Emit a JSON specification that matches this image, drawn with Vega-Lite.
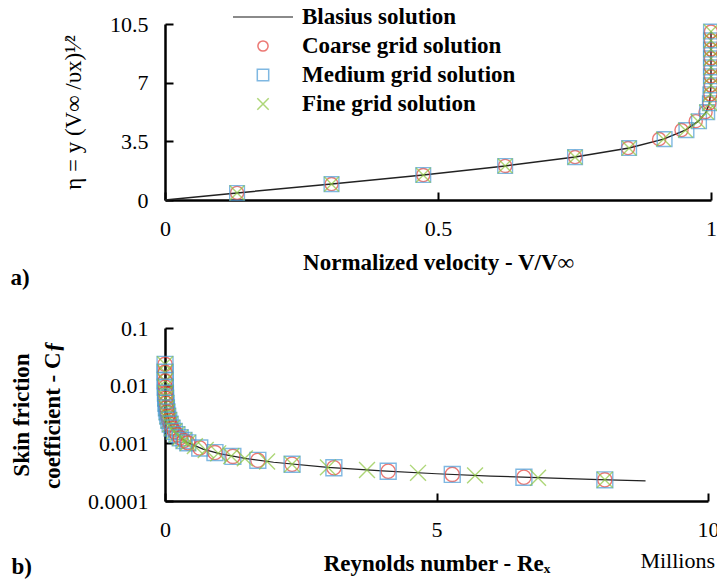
{
  "$schema": "https://vega.github.io/schema/vega-lite/v6.json",
  "background": "white",
  "padding": {"left": 10, "top": 5, "right": 0, "bottom": 0},
  "spacing": 27,
  "datasets": {
    "blasiusTop": [
      {"v": 0, "eta": 0}, {"v": 0.132, "eta": 0.42}, {"v": 0.305, "eta": 0.95}, {"v": 0.473, "eta": 1.49},
      {"v": 0.623, "eta": 2.03}, {"v": 0.751, "eta": 2.56}, {"v": 0.85, "eta": 3.1}, {"v": 0.913, "eta": 3.63},
      {"v": 0.953, "eta": 4.17}, {"v": 0.977, "eta": 4.7}, {"v": 0.991, "eta": 5.24}, {"v": 0.997, "eta": 5.77},
      {"v": 0.999, "eta": 6.31}, {"v": 1.0, "eta": 7.0}, {"v": 1.0, "eta": 10.05}
    ],
    "gridTop": [
      {"s": "Coarse grid solution", "v": 0.132, "eta": 0.42}, {"s": "Medium grid solution", "v": 0.132, "eta": 0.42}, {"s": "Fine grid solution", "v": 0.132, "eta": 0.42},
      {"s": "Coarse grid solution", "v": 0.305, "eta": 0.95}, {"s": "Medium grid solution", "v": 0.305, "eta": 0.95}, {"s": "Fine grid solution", "v": 0.305, "eta": 0.95},
      {"s": "Coarse grid solution", "v": 0.473, "eta": 1.49}, {"s": "Medium grid solution", "v": 0.473, "eta": 1.49}, {"s": "Fine grid solution", "v": 0.473, "eta": 1.49},
      {"s": "Coarse grid solution", "v": 0.623, "eta": 2.03}, {"s": "Medium grid solution", "v": 0.623, "eta": 2.03}, {"s": "Fine grid solution", "v": 0.623, "eta": 2.03},
      {"s": "Coarse grid solution", "v": 0.751, "eta": 2.56}, {"s": "Medium grid solution", "v": 0.751, "eta": 2.56}, {"s": "Fine grid solution", "v": 0.751, "eta": 2.56},
      {"s": "Coarse grid solution", "v": 0.848, "eta": 3.1}, {"s": "Medium grid solution", "v": 0.85, "eta": 3.1}, {"s": "Fine grid solution", "v": 0.85, "eta": 3.1},
      {"s": "Coarse grid solution", "v": 0.905, "eta": 3.63}, {"s": "Medium grid solution", "v": 0.915, "eta": 3.63}, {"s": "Fine grid solution", "v": 0.913, "eta": 3.63},
      {"s": "Coarse grid solution", "v": 0.946, "eta": 4.17}, {"s": "Medium grid solution", "v": 0.955, "eta": 4.17}, {"s": "Fine grid solution", "v": 0.953, "eta": 4.17},
      {"s": "Coarse grid solution", "v": 0.972, "eta": 4.7}, {"s": "Medium grid solution", "v": 0.978, "eta": 4.7}, {"s": "Fine grid solution", "v": 0.976, "eta": 4.7},
      {"s": "Coarse grid solution", "v": 0.99, "eta": 5.24}, {"s": "Medium grid solution", "v": 0.993, "eta": 5.24}, {"s": "Fine grid solution", "v": 0.992, "eta": 5.24},
      {"s": "Coarse grid solution", "v": 0.997, "eta": 5.77}, {"s": "Medium grid solution", "v": 0.998, "eta": 5.77}, {"s": "Fine grid solution", "v": 0.998, "eta": 5.77},
      {"s": "Coarse grid solution", "v": 0.999, "eta": 6.31}, {"s": "Medium grid solution", "v": 0.999, "eta": 6.31}, {"s": "Fine grid solution", "v": 0.999, "eta": 6.31},
      {"s": "Coarse grid solution", "v": 1.0, "eta": 6.84}, {"s": "Medium grid solution", "v": 1.0, "eta": 6.84}, {"s": "Fine grid solution", "v": 1.0, "eta": 6.84},
      {"s": "Coarse grid solution", "v": 1.0, "eta": 7.38}, {"s": "Medium grid solution", "v": 1.0, "eta": 7.38}, {"s": "Fine grid solution", "v": 1.0, "eta": 7.38},
      {"s": "Coarse grid solution", "v": 1.0, "eta": 7.91}, {"s": "Medium grid solution", "v": 1.0, "eta": 7.91}, {"s": "Fine grid solution", "v": 1.0, "eta": 7.91},
      {"s": "Coarse grid solution", "v": 1.0, "eta": 8.45}, {"s": "Medium grid solution", "v": 1.0, "eta": 8.45}, {"s": "Fine grid solution", "v": 1.0, "eta": 8.45},
      {"s": "Coarse grid solution", "v": 1.0, "eta": 8.98}, {"s": "Medium grid solution", "v": 1.0, "eta": 8.98}, {"s": "Fine grid solution", "v": 1.0, "eta": 8.98},
      {"s": "Coarse grid solution", "v": 1.0, "eta": 9.52}, {"s": "Medium grid solution", "v": 1.0, "eta": 9.52}, {"s": "Fine grid solution", "v": 1.0, "eta": 9.52},
      {"s": "Coarse grid solution", "v": 1.0, "eta": 10.05}, {"s": "Medium grid solution", "v": 1.0, "eta": 10.05}, {"s": "Fine grid solution", "v": 1.0, "eta": 10.05}
    ],
    "blasiusBot": [
      {"re": 0.0008, "cf": 0.02348}, {"re": 0.002, "cf": 0.01485}, {"re": 0.005, "cf": 0.00939}, {"re": 0.01, "cf": 0.00664},
      {"re": 0.02, "cf": 0.0047}, {"re": 0.05, "cf": 0.00297}, {"re": 0.1, "cf": 0.0021}, {"re": 0.2, "cf": 0.00148},
      {"re": 0.4, "cf": 0.00105}, {"re": 0.7, "cf": 0.000794}, {"re": 1.0, "cf": 0.000664}, {"re": 1.5, "cf": 0.000542},
      {"re": 2.0, "cf": 0.00047}, {"re": 3.0, "cf": 0.000383}, {"re": 4.0, "cf": 0.000332}, {"re": 5.0, "cf": 0.000297},
      {"re": 6.0, "cf": 0.000271}, {"re": 7.0, "cf": 0.000251}, {"re": 8.0, "cf": 0.000235}, {"re": 8.85, "cf": 0.000223}
    ],
    "gridBot": [
      {"s": "Coarse grid solution", "re": 0.0008, "cf": 0.02348}, {"s": "Medium grid solution", "re": 0.0008, "cf": 0.02348}, {"s": "Fine grid solution", "re": 0.0008, "cf": 0.02348},
      {"s": "Coarse grid solution", "re": 0.0015, "cf": 0.01714}, {"s": "Medium grid solution", "re": 0.0015, "cf": 0.01714}, {"s": "Fine grid solution", "re": 0.0015, "cf": 0.01714},
      {"s": "Coarse grid solution", "re": 0.003, "cf": 0.01212}, {"s": "Medium grid solution", "re": 0.003, "cf": 0.01212}, {"s": "Fine grid solution", "re": 0.003, "cf": 0.01212},
      {"s": "Coarse grid solution", "re": 0.005, "cf": 0.00939}, {"s": "Medium grid solution", "re": 0.005, "cf": 0.00939}, {"s": "Fine grid solution", "re": 0.005, "cf": 0.00939},
      {"s": "Coarse grid solution", "re": 0.008, "cf": 0.00742}, {"s": "Medium grid solution", "re": 0.008, "cf": 0.00742}, {"s": "Fine grid solution", "re": 0.008, "cf": 0.00742},
      {"s": "Coarse grid solution", "re": 0.012, "cf": 0.00606}, {"s": "Medium grid solution", "re": 0.012, "cf": 0.00606}, {"s": "Fine grid solution", "re": 0.012, "cf": 0.00606},
      {"s": "Coarse grid solution", "re": 0.018, "cf": 0.00495}, {"s": "Medium grid solution", "re": 0.018, "cf": 0.00495}, {"s": "Fine grid solution", "re": 0.018, "cf": 0.00495},
      {"s": "Coarse grid solution", "re": 0.026, "cf": 0.00412}, {"s": "Medium grid solution", "re": 0.026, "cf": 0.00412}, {"s": "Fine grid solution", "re": 0.026, "cf": 0.00412},
      {"s": "Coarse grid solution", "re": 0.036, "cf": 0.0035}, {"s": "Medium grid solution", "re": 0.036, "cf": 0.0035}, {"s": "Fine grid solution", "re": 0.036, "cf": 0.0035},
      {"s": "Coarse grid solution", "re": 0.05, "cf": 0.00297}, {"s": "Medium grid solution", "re": 0.05, "cf": 0.00297}, {"s": "Fine grid solution", "re": 0.05, "cf": 0.00297},
      {"s": "Coarse grid solution", "re": 0.07, "cf": 0.00251}, {"s": "Medium grid solution", "re": 0.07, "cf": 0.00251}, {"s": "Fine grid solution", "re": 0.07, "cf": 0.00251},
      {"s": "Coarse grid solution", "re": 0.095, "cf": 0.00215}, {"s": "Medium grid solution", "re": 0.095, "cf": 0.00215}, {"s": "Fine grid solution", "re": 0.095, "cf": 0.00215},
      {"s": "Coarse grid solution", "re": 0.13, "cf": 0.00184}, {"s": "Medium grid solution", "re": 0.13, "cf": 0.00184}, {"s": "Fine grid solution", "re": 0.13, "cf": 0.00184},
      {"s": "Coarse grid solution", "re": 0.17, "cf": 0.00161}, {"s": "Medium grid solution", "re": 0.17, "cf": 0.00161}, {"s": "Fine grid solution", "re": 0.17, "cf": 0.00161},
      {"s": "Coarse grid solution", "re": 0.22, "cf": 0.00142}, {"s": "Medium grid solution", "re": 0.22, "cf": 0.00142}, {"s": "Fine grid solution", "re": 0.22, "cf": 0.00142},
      {"s": "Coarse grid solution", "re": 0.28, "cf": 0.00125}, {"s": "Medium grid solution", "re": 0.28, "cf": 0.00125}, {"s": "Fine grid solution", "re": 0.28, "cf": 0.00125},
      {"s": "Coarse grid solution", "re": 0.35, "cf": 0.00112}, {"s": "Medium grid solution", "re": 0.35, "cf": 0.00112}, {"s": "Fine grid solution", "re": 0.35, "cf": 0.00112},
      {"s": "Coarse grid solution", "re": 0.42, "cf": 0.00102}, {"s": "Medium grid solution", "re": 0.42, "cf": 0.00102}, {"s": "Fine grid solution", "re": 0.42, "cf": 0.00102},
      {"s": "Coarse grid solution", "re": 0.64, "cf": 0.00083}, {"s": "Medium grid solution", "re": 0.64, "cf": 0.00083},
      {"s": "Coarse grid solution", "re": 0.92, "cf": 0.000692}, {"s": "Medium grid solution", "re": 0.92, "cf": 0.000692},
      {"s": "Coarse grid solution", "re": 1.25, "cf": 0.000594}, {"s": "Medium grid solution", "re": 1.25, "cf": 0.000594},
      {"s": "Coarse grid solution", "re": 1.71, "cf": 0.000508}, {"s": "Medium grid solution", "re": 1.71, "cf": 0.000508},
      {"s": "Coarse grid solution", "re": 2.34, "cf": 0.000434}, {"s": "Medium grid solution", "re": 2.34, "cf": 0.000434},
      {"s": "Coarse grid solution", "re": 3.11, "cf": 0.000377}, {"s": "Medium grid solution", "re": 3.11, "cf": 0.000377},
      {"s": "Coarse grid solution", "re": 4.11, "cf": 0.000328}, {"s": "Medium grid solution", "re": 4.11, "cf": 0.000328},
      {"s": "Coarse grid solution", "re": 5.29, "cf": 0.000289}, {"s": "Medium grid solution", "re": 5.29, "cf": 0.000289},
      {"s": "Coarse grid solution", "re": 6.61, "cf": 0.000258}, {"s": "Medium grid solution", "re": 6.61, "cf": 0.000258},
      {"s": "Coarse grid solution", "re": 8.1, "cf": 0.000233}, {"s": "Medium grid solution", "re": 8.1, "cf": 0.000233},
      {"s": "Fine grid solution", "re": 0.55, "cf": 0.000895}, {"s": "Fine grid solution", "re": 0.75, "cf": 0.000767},
      {"s": "Fine grid solution", "re": 0.98, "cf": 0.000671}, {"s": "Fine grid solution", "re": 1.22, "cf": 0.000601},
      {"s": "Fine grid solution", "re": 1.47, "cf": 0.000548}, {"s": "Fine grid solution", "re": 1.88, "cf": 0.000484},
      {"s": "Fine grid solution", "re": 2.34, "cf": 0.000434}, {"s": "Fine grid solution", "re": 3.0, "cf": 0.000383},
      {"s": "Fine grid solution", "re": 3.72, "cf": 0.000344}, {"s": "Fine grid solution", "re": 4.66, "cf": 0.000308},
      {"s": "Fine grid solution", "re": 5.71, "cf": 0.000278}, {"s": "Fine grid solution", "re": 6.87, "cf": 0.000253},
      {"s": "Fine grid solution", "re": 8.1, "cf": 0.000233}
    ]
  },
  "resolve": {"scale": {"color": "independent", "shape": "independent"}, "legend": {"color": "independent", "shape": "independent"}},
  "vconcat": [
    {
      "width": 546,
      "height": 176,
      "title": {"text": "a)", "orient": "bottom", "anchor": "start", "frame": "bounds", "font": "Liberation Serif, Tinos, Times New Roman, DejaVu Serif, serif", "fontSize": 23, "fontWeight": "bold", "color": "black", "dx": -52, "offset": -7},
      "layer": [
        {
          "data": {"name": "blasiusTop"},
          "mark": {"type": "line", "color": "#222222", "strokeWidth": 1.5},
          "encoding": {
            "x": {"field": "v", "type": "quantitative", "scale": {"domain": [0, 1], "nice": false},
                  "axis": {"values": [0, 0.5, 1], "format": ".1~f", "title": "Normalized velocity - V/V∞"}},
            "y": {"field": "eta", "type": "quantitative", "scale": {"domain": [0, 10.5], "nice": false},
                  "axis": {"values": [0, 3.5, 7, 10.5], "format": ".1~f", "title": "η = y (V∞ /υx)¹⁄²", "titleFontWeight": "normal", "titlePadding": 24}},
            "order": {"field": "eta", "type": "quantitative"}
          }
        },
        {
          "data": {"name": "gridTop"},
          "mark": {"type": "point", "filled": false, "strokeWidth": 1.4, "size": 6000},
          "encoding": {
            "x": {"field": "v", "type": "quantitative"},
            "y": {"field": "eta", "type": "quantitative"},
            "color": {"field": "s", "type": "nominal",
              "scale": {"domain": ["Blasius solution", "Coarse grid solution", "Medium grid solution", "Fine grid solution"], "range": ["#222222", "#e5403a", "#4a9bd6", "#8cc63f"]},
              "legend": {"title": null, "orient": "none", "legendX": 67, "legendY": -19, "padding": 0, "clipHeight": 24, "symbolSize": 3600, "symbolStrokeWidth": 1.5, "labelLimit": 400,
                "labelFont": "Liberation Serif, Tinos, Times New Roman, DejaVu Serif, serif", "labelFontSize": 23, "labelFontWeight": "bold", "labelColor": "black", "labelOffset": 8, "rowPadding": 5}},
            "shape": {"field": "s", "type": "nominal",
              "scale": {"domain": ["Blasius solution", "Coarse grid solution", "Medium grid solution", "Fine grid solution"], "range": ["stroke", "M0.17,0A0.17,0.17,0,1,1,-0.17,0A0.17,0.17,0,1,1,0.17,0Z", "M-0.19,-0.19H0.19V0.19H-0.19Z", "M-0.19,-0.19L0.19,0.19M-0.19,0.19L0.19,-0.19"]}}
          }
        }
      ]
    },
    {
      "width": 543,
      "height": 173,
      "title": {"text": "b)", "orient": "bottom", "anchor": "start", "frame": "bounds", "font": "Liberation Serif, Tinos, Times New Roman, DejaVu Serif, serif", "fontSize": 23, "fontWeight": "bold", "color": "black", "dx": 1, "offset": -19},
      "layer": [
        {
          "data": {"name": "blasiusBot"},
          "mark": {"type": "line", "color": "#222222", "strokeWidth": 1.2},
          "encoding": {
            "x": {"field": "re", "type": "quantitative", "scale": {"domain": [0, 10], "nice": false},
                  "axis": {"values": [0, 5, 10], "format": "d", "title": "Reynolds number - Reₓ"}},
            "y": {"field": "cf", "type": "quantitative", "scale": {"type": "log", "domain": [0.0001, 0.1], "nice": false},
                  "axis": {"values": [0.0001, 0.001, 0.01, 0.1], "format": "~g", "title": ["Skin friction", "coefficient - Cƒ"], "titleLineHeight": 31, "titlePadding": 23}}
          }
        },
        {
          "data": {"name": "gridBot"},
          "mark": {"type": "point", "filled": false, "strokeWidth": 1.4, "size": 7000},
          "encoding": {
            "x": {"field": "re", "type": "quantitative"},
            "y": {"field": "cf", "type": "quantitative"},
            "color": {"field": "s", "type": "nominal",
              "scale": {"domain": ["Blasius solution", "Coarse grid solution", "Medium grid solution", "Fine grid solution"], "range": ["#222222", "#e5403a", "#4a9bd6", "#8cc63f"]}, "legend": null},
            "shape": {"field": "s", "type": "nominal",
              "scale": {"domain": ["Blasius solution", "Coarse grid solution", "Medium grid solution", "Fine grid solution"], "range": ["stroke", "M0.17,0A0.17,0.17,0,1,1,-0.17,0A0.17,0.17,0,1,1,0.17,0Z", "M-0.19,-0.19H0.19V0.19H-0.19Z", "M-0.19,-0.19L0.19,0.19M-0.19,0.19L0.19,-0.19"]}, "legend": null}
          }
        },
        {
          "data": {"values": [{"label": "Millions"}]},
          "mark": {"type": "text", "align": "right", "baseline": "middle", "dx": 7, "dy": 60, "font": "Liberation Serif, Tinos, Times New Roman, DejaVu Serif, serif", "fontSize": 22, "color": "black"},
          "encoding": {
            "text": {"field": "label"},
            "x": {"datum": 10},
            "y": {"datum": 0.0001}
          }
        }
      ]
    }
  ],
  "config": {
    "view": {"stroke": null},
    "axis": {"grid": false, "domainColor": "black", "domainWidth": 2.5, "tickColor": "black", "tickWidth": 2, "tickSize": -8,
      "labelFont": "Liberation Serif, Tinos, Times New Roman, DejaVu Serif, serif", "labelFontSize": 22, "labelColor": "black", "labelFlush": false, "labelOverlap": false,
      "titleFont": "Liberation Serif, Tinos, Times New Roman, DejaVu Serif, serif", "titleFontSize": 23, "titleColor": "black", "titleFontWeight": "bold"},
    "axisX": {"labelPadding": 26, "titlePadding": 12},
    "axisY": {"labelPadding": 25, "titlePadding": 12}
  }
}
